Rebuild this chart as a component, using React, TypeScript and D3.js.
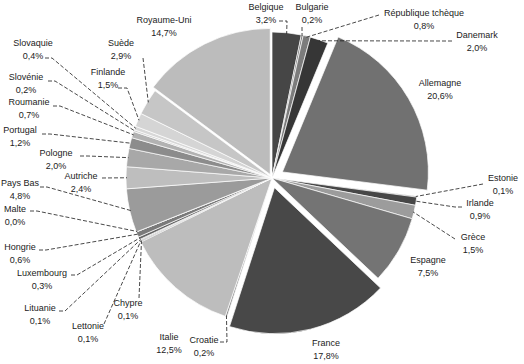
import React from "react";
import * as d3 from "d3";

const countries = [
  "Belgique", "Bulgarie", "République tchèque", "Danemark", "Allemagne", "Estonie",
  "Irlande", "Grèce", "Espagne", "France", "Croatie", "Italie", "Chypre", "Lettonie",
  "Lituanie", "Luxembourg", "Hongrie", "Malte", "Pays Bas", "Autriche", "Pologne",
  "Portugal", "Roumanie", "Slovénie", "Slovaquie", "Finlande", "Suède", "Royaume-Uni",
];
const shares = [
  3.2, 0.2, 0.8, 2.0, 20.6, 0.1,
  0.9, 1.5, 7.5, 17.8, 0.2, 12.5, 0.1, 0.1,
  0.1, 0.3, 0.6, 0.0, 4.8, 2.4, 2.0,
  1.2, 0.7, 0.2, 0.4, 1.5, 2.9, 14.7,
];

// styling (not data)
const colors = [
  "#464646", "#6e6e6e", "#7c7c7c", "#363636", "#717171", "#555555",
  "#474747", "#9c9c9c", "#747474", "#484848", "#8a8a8a", "#bdbdbd", "#6a6a6a", "#555555",
  "#999999", "#666666", "#7a7a7a", "#444444", "#9b9b9b", "#bebebe", "#a8a8a8",
  "#8c8c8c", "#b2b2b2", "#cfcfcf", "#d8d8d8", "#d5d5d5", "#c6c6c6", "#bcbcbc",
];
const explode: Record<string, number> = { Allemagne: 12, France: 10, "Royaume-Uni": 4 };

// label layout: [centerX, firstLineY, leaderStartX, leaderStartY, stubX] (null = no leader)
const labelLayout: Record<string, [number, number, number | null, number | null, number | null]> = {
  Belgique: [266, 8, 279, 21, 287],
  Bulgarie: [312, 8, 302, 27, null],
  "République tchèque": [424, 14, 379, 15, null],
  Danemark: [477, 36, 452, 41, 443],
  Allemagne: [440, 84, null, null, null],
  Estonie: [503, 179, 483, 184, null],
  Irlande: [480, 204, 462, 207, 455],
  Grèce: [473, 238, 455, 239, null],
  Espagne: [428, 261, null, null, null],
  France: [326, 344, null, null, null],
  Croatie: [204, 341, 220, 342, 227],
  Italie: [169, 338, null, null, null],
  Chypre: [128, 304, 139, 298, null],
  Lettonie: [88, 327, 104, 324, null],
  Lituanie: [40, 309, 59, 311, 65],
  Luxembourg: [42, 274, 71, 275, 77],
  Hongrie: [20, 248, 39, 250, 46],
  Malte: [15, 210, 30, 211, 37],
  "Pays Bas": [20, 184, 40, 187, 47],
  Autriche: [81, 177, 102, 178, null],
  Pologne: [56, 154, 80, 156, 88],
  Portugal: [20, 131, 42, 134, 50],
  Roumanie: [29, 103, 53, 106, 60],
  Slovénie: [26, 78, 48, 81, 55],
  Slovaquie: [33, 44, 45, 58, 52],
  Finlande: [108, 73, 118, 88, 127],
  Suède: [121, 44, 143, 58, null],
  "Royaume-Uni": [164, 21, null, null, null],
};

const W = 524, H = 364;
const cx = 272, cy = 178, R = 146;

export default function App() {
  const data = countries.map((name, i) => ({ name, value: shares[i], color: colors[i] }));
  const pie = d3.pie<any>().sort(null).value((d) => d.value).startAngle(0).endAngle(2 * Math.PI);
  const arcs = pie(data);
  const arc = d3.arc<any>().innerRadius(0).outerRadius(R);
  const fmt = (v: number) => v.toFixed(1).replace(".", ",") + "%";

  return (
    <svg width={W} height={H} style={{ position: "absolute", left: 0, top: 0, background: "#fff" }}>
      <g transform={`translate(${cx},${cy})`}>
        {arcs.map((a) => {
          const mid = (a.startAngle + a.endAngle) / 2;
          const off = explode[a.data.name] || 0;
          const dx = Math.sin(mid) * off, dy = -Math.cos(mid) * off;
          return (
            <path key={a.data.name} d={arc(a) || ""} fill={a.data.color}
              stroke="#fff" strokeWidth={0.7} transform={`translate(${dx},${dy})`} />
          );
        })}
      </g>
      {arcs.map((a) => {
        const lay = labelLayout[a.data.name];
        if (!lay) return null;
        const [lx, ly, sx, sy, stub] = lay;
        const mid = (a.startAngle + a.endAngle) / 2;
        const off = explode[a.data.name] || 0;
        const ex = cx + Math.sin(mid) * (R + off - 1);
        const ey = cy - Math.cos(mid) * (R + off - 1);
        let leader = null;
        if (sx !== null && sy !== null) {
          const pts: [number, number][] = [[sx, sy]];
          if (stub !== null) pts.push([stub, sy]);
          pts.push([ex, ey]);
          leader = (
            <path d={d3.line()(pts) || ""} fill="none" stroke="#1a1a1a" strokeWidth={0.8}
              strokeDasharray="4,2" />
          );
        }
        return (
          <g key={"l" + a.data.name}>
            {leader}
            <text x={lx} y={ly} textAnchor="middle" dominantBaseline="middle"
              fontFamily="Liberation Sans, Arial, sans-serif" fontSize={9} fill="#222">
              {a.data.name}
            </text>
            <text x={lx} y={ly + 12.5} textAnchor="middle" dominantBaseline="middle"
              fontFamily="Liberation Sans, Arial, sans-serif" fontSize={9} fill="#222">
              {fmt(a.data.value)}
            </text>
          </g>
        );
      })}
    </svg>
  );
}
